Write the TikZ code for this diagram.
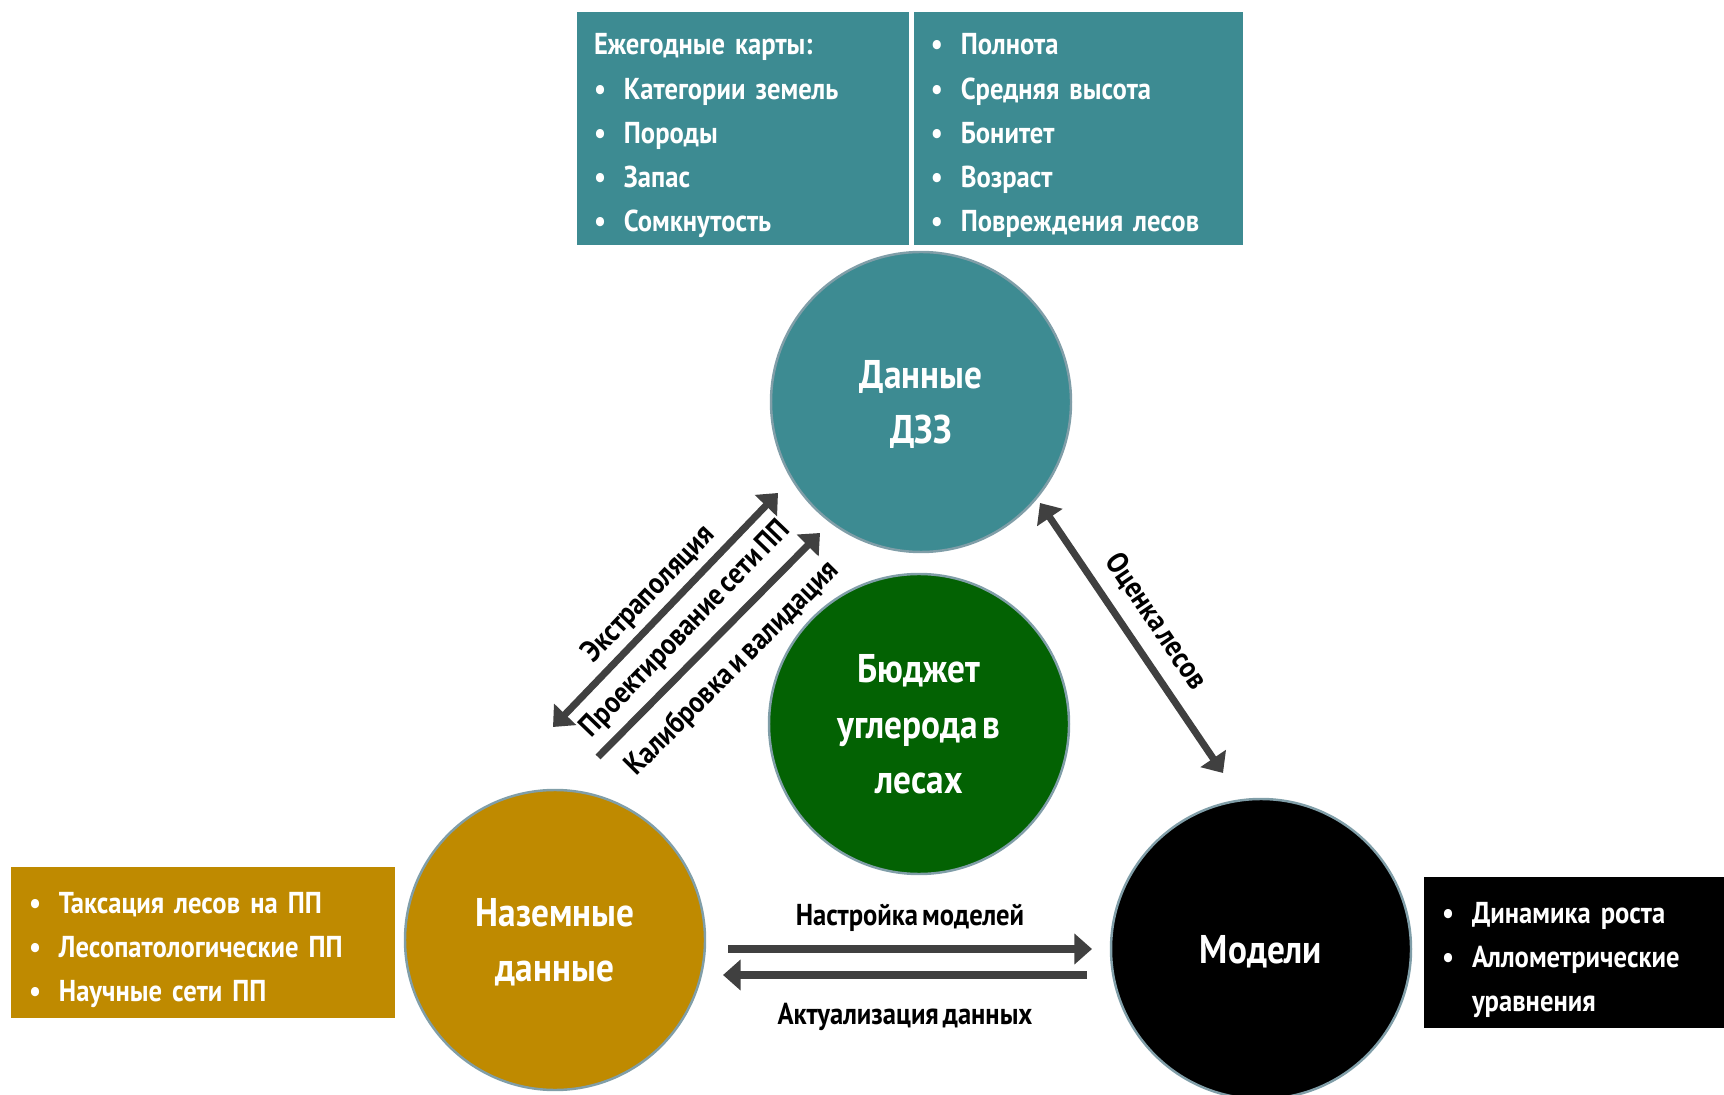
\documentclass[tikz,border=0pt]{standalone}
\usepackage{fontspec}
\setmainfont{PT Sans}[FakeStretch=0.88,WordSpace=0.6]
\usepackage{xcolor}
\usetikzlibrary{arrows.meta,positioning,calc}

\definecolor{tealdzz}{RGB}{61,139,146}
\definecolor{budgetgreen}{RGB}{3,98,3}
\definecolor{groundgold}{RGB}{191,138,0}
\definecolor{arrowgray}{RGB}{64,64,64}
\definecolor{rimgray}{RGB}{128,158,168}

\newcommand{\bubblefont}{\fontsize{11.4}{15.8}\selectfont\bfseries}
\newcommand{\listtextfont}{\fontsize{8.6}{12.6}\selectfont\bfseries}
\newcommand{\bul}{\makebox[0.3cm][l]{\textbullet}}

\begin{document}
\begin{tikzpicture}[
  bubble/.style={circle,minimum size=3cm,inner sep=0pt,draw=rimgray,line width=0.7pt,text=white,align=center,
    font=\bubblefont,text depth=0pt},
  listbox/.style={rectangle,inner xsep=0.18cm,inner ysep=0pt,text=white,align=left,font=\listtextfont,
    execute at begin node={\rule{0pt}{10.2pt}}},
  lbl/.style={font=\listtextfont,inner sep=0pt,text height=6.3pt,text depth=1.5pt},
  flow/.style={draw=arrowgray,line width=2pt,-{Triangle[length=5pt,width=8.5pt]}},
  flowboth/.style={flow,{Triangle[length=5pt,width=8.5pt]}-{Triangle[length=5pt,width=8.5pt]}}
]
\useasboundingbox (0,0) rectangle (17.24,10.94);

% circles
\node[bubble,fill=tealdzz] (dzz) at (9.21,6.92) {Данные\\ДЗЗ};
\node[bubble,fill=budgetgreen] (budget) at (9.19,3.70) {Бюджет\\углерода в\\лесах};
\node[bubble,fill=groundgold] (ground) at (5.55,1.54) {Наземные\\данные};
\node[bubble,fill=black] (models) at (12.61,1.45) {Модели};

% lists
\node[listbox,fill=tealdzz,draw=white,line width=0.8pt,text width=2.98cm,minimum height=2.35cm] (maps) at (7.43,9.655)
  {Ежегодные карты:\\\bul Категории земель\\\bul Породы\\\bul Запас\\\bul Сомкнутость};
\node[listbox,fill=tealdzz,draw=white,line width=0.8pt,text width=2.96cm,minimum height=2.35cm,right=0pt of maps] (attrs)
  {\bul Полнота\\\bul Средняя высота\\\bul Бонитет\\\bul Возраст\\\bul Повреждения лесов};
\node[listbox,fill=groundgold,text width=3.48cm,minimum height=1.51cm] (plots) at (2.03,1.515)
  {\bul Таксация лесов на ПП\\\bul Лесопатологические ПП\\\bul Научные сети ПП};
\node[listbox,fill=black,text width=2.64cm,minimum height=1.51cm] (eqs) at (15.74,1.415)
  {\bul Динамика роста\\\bul Аллометрические\\\makebox[0.3cm]{}уравнения};

% arrow ends
\coordinate (ex1) at (5.53,3.67); \coordinate (ex2) at (7.78,6.01);
\coordinate (kv1) at (5.98,3.37); \coordinate (kv2) at (8.20,5.61);
\coordinate (ol1) at (10.40,5.91); \coordinate (ol2) at (12.23,3.21);
\coordinate (nm1) at (7.28,1.45); \coordinate (nm2) at (10.92,1.45);
\coordinate (ad1) at (10.87,1.19); \coordinate (ad2) at (7.23,1.19);

\draw[flowboth] (ex1) -- node[lbl,sloped,above=0.06cm] (extr) {Экстраполяция}
  node[lbl,sloped,below=0.10cm] (proj) {Проектирование сети ПП} (ex2);
\draw[flow] (kv1) -- node[lbl,sloped,below=0.16cm] (calib) {Калибровка и валидация} (kv2);
\draw[flowboth] (ol1) -- node[lbl,sloped,above=0.12cm] (estim) {Оценка лесов} (ol2);
\draw[flow] (nm1) -- node[lbl,above=0.15cm] (tune) {Настройка моделей} (nm2); %label
\draw[flow] (ad1) -- node[lbl,below=0.24cm] (update) {Актуализация данных} (ad2); %label
\end{tikzpicture}
\end{document}
